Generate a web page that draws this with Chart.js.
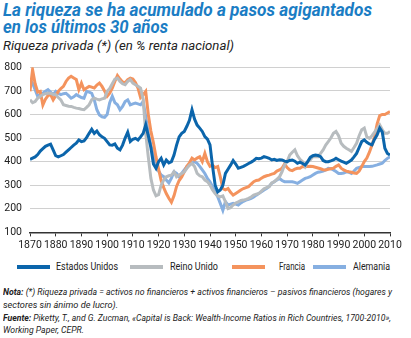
<!DOCTYPE html>
<html>
<head>
<meta charset="utf-8">
<script src="https://cdn.jsdelivr.net/npm/chart.js@4.4.1/dist/chart.umd.min.js"></script>
<style>
  html, body { margin: 0; padding: 0; background: #fff; }
  body { width: 411px; height: 338px; position: relative; overflow: hidden; font-family: Roboto, "Open Sans", sans-serif; color: #222; }
  .txt { position: absolute; left: 3px; white-space: nowrap; line-height: 1; transform-origin: 0 0; display: inline-block; }
  .title { color: #1b7dc4; font-weight: bold; font-style: italic; font-size: 18px; }
  .sub { font-style: italic; font-size: 12px; }
  .note { font-style: italic; font-size: 9.5px; }
  .legend-text { font-size: 10px; }
  .legend-line { position: absolute; height: 4px; }
  .chartbox { position: absolute; left: 0; top: 53px; width: 411px; height: 202px; }
</style>
</head>
<body>
<div class="txt title" style="top:1px" data-w="369">La riqueza se ha acumulado a pasos agigantados</div>
<div class="txt title" style="top:17.5px" data-w="165">en los últimos 30 años</div>
<div class="txt sub" style="top:40px" data-w="231">Riqueza privada (*) (en % renta nacional)</div>
<div class="chartbox"><canvas id="chart"></canvas></div>
<div id="legend"></div>
<div class="txt note" style="top:287px" data-w="389"><b>Nota:</b> (*) Riqueza privada = activos no financieros + activos financieros – pasivos financieros (hogares y</div>
<div class="txt note" style="top:299.5px" data-w="115">sectores sin ánimo de lucro).</div>
<div class="txt note" style="top:313px" data-w="388"><b>Fuente:</b> Piketty, T., and G. Zucman, «Capital is Back: Wealth-Income Ratios in Rich Countries, 1700-2010»,</div>
<div class="txt note" style="top:325px" data-w="81">Working Paper, CEPR.</div>
<script>
const years = Array.from({ length: 141 }, (_, i) => 1870 + i)

const estadosUnidos = [
    410, 415, 420, 430, 445, 455, 465, 470, 474, 450,
    425, 420, 425, 430, 440, 450, 460, 470, 478, 492,
    485, 488, 502, 520, 537, 520, 530, 514, 505, 499,
    485, 471, 470, 475, 457, 450, 470, 500, 525, 485,
    495, 499, 492, 505, 520, 556, 510, 460, 390, 372,
    400, 414, 386, 407, 395, 400, 428, 470, 505, 520,
    528, 550, 575, 620, 580, 555, 542, 528, 506, 495,
    471, 380, 300, 272, 280, 300, 350, 368, 385, 405,
    390, 372, 376, 380, 386, 392, 398, 405, 414, 412,
    415, 421, 418, 414, 407, 410, 405, 408, 407, 402,
    400, 405, 407, 402, 393, 398, 392, 386, 400, 418,
    425, 428, 426, 421, 405, 400, 400, 403, 407, 414,
    408, 402, 398, 393, 400, 407, 420, 435, 460, 485,
    492, 482, 475, 471, 495, 514, 542, 525, 457, 435,
    428
]

const reinoUnido = [
    662, 650, 655, 669, 677, 684, 688, 690, 690, 686,
    684, 672, 662, 641, 638, 635, 634, 630, 627, 625,
    622, 620, 630, 641, 662, 669, 665, 662, 666, 669,
    698, 710, 730, 750, 754, 740, 730, 726, 740, 748,
    733, 726, 720, 712, 665, 520, 420, 330, 280, 255,
    260, 300, 322, 336, 340, 343, 357, 336, 343, 350,
    357, 372, 385, 393, 379, 350, 340, 336, 322, 315,
    301, 280, 265, 255, 251, 255, 230, 201, 205, 216,
    225, 230, 235, 237, 240, 244, 250, 258, 262, 265,
    275, 285, 290, 294, 310, 315, 325, 335, 357, 386,
    400, 428, 440, 450, 425, 410, 400, 379, 400, 407,
    421, 421, 421, 435, 450, 470, 485, 500, 520, 528,
    510, 478, 465, 457, 450, 443, 460, 478, 510, 535,
    542, 505, 499, 510, 525, 540, 556, 535, 520, 520,
    528
]

const francia = [
    698, 790, 730, 695, 698, 640, 665, 680, 684, 662,
    680, 698, 710, 719, 740, 754, 762, 755, 748, 705,
    733, 705, 712, 719, 716, 712, 725, 733, 719, 700,
    677, 690, 712, 740, 765, 750, 738, 735, 748, 754,
    750, 735, 712, 672, 684, 698, 600, 530, 480, 420,
    370, 320, 290, 265, 245, 228, 255, 295, 320, 335,
    357, 380, 395, 415, 407, 415, 421, 400, 435, 400,
    380, 385, 375, 379, 336, 285, 280, 286, 270, 258,
    265, 272, 280, 286, 290, 294, 305, 315, 320, 322,
    330, 336, 340, 343, 347, 350, 360, 365, 372, 390,
    375, 365, 362, 368, 372, 372, 379, 378, 379, 380,
    379, 376, 373, 370, 366, 365, 368, 370, 372, 380,
    386, 372, 365, 360, 357, 355, 352, 350, 360, 379,
    400, 415, 440, 470, 506, 560, 595, 600, 600, 606,
    612
]

const alemania = [
    748, 733, 705, 677, 685, 690, 698, 705, 695, 684,
    698, 690, 684, 688, 690, 680, 669, 675, 684, 678,
    672, 669, 698, 695, 690, 662, 620, 598, 590, 588,
    600, 650, 677, 650, 641, 620, 634, 655, 662, 641,
    645, 648, 645, 641, 655, 590, 520, 470, 430, 390,
    360, 343, 336, 322, 310, 330, 357, 350, 336, 350,
    365, 379, 386, 395, 400, 393, 380, 365, 350, 329,
    315, 294, 272, 251, 223, 194, 230, 216, 220, 223,
    220, 216, 225, 232, 237, 240, 244, 250, 258, 265,
    272, 280, 286, 295, 308, 315, 322, 329, 320, 315,
    315, 315, 315, 312, 308, 315, 322, 329, 332, 336,
    343, 350, 355, 357, 360, 365, 372, 370, 365, 358,
    350, 350, 352, 357, 355, 350, 360, 372, 375, 379,
    379, 379, 379, 380, 383, 386, 390, 393, 405, 414,
    421
]

const seriesNames = ['Estados Unidos', 'Reino Unido', 'Francia', 'Alemania']
const seriesColors = ['#0b65ab', '#b7bcbf', '#f4935d', '#86afe1']
const yTicks = [100, 200, 300, 400, 500, 600, 700, 800]

// legend placement (line start x, text start x, text width)
const legendSlots = [[17, 56, 62], [130, 170, 48], [232, 279, 26], [313, 353, 37]]

const makeSeries = (label, values, color) => ({
    label,
    data: values.map((v, i) => ({ x: years[i], y: v })),
    borderColor: color,
    backgroundColor: color,
    borderWidth: 3,
    pointRadius: 0,
    tension: 0,
    fill: false
})

const font = { family: 'Roboto, sans-serif', size: 10.5 }

const chart = new Chart(document.getElementById('chart'), {
    type: 'line',
    data: {
        datasets: [estadosUnidos, reinoUnido, francia, alemania].map((s, i) => makeSeries(seriesNames[i], s, seriesColors[i]))
    },
    options: {
        animation: false,
        responsive: true,
        maintainAspectRatio: false,
        layout: { padding: { top: 12, right: 21, left: 0, bottom: 0 } },
        plugins: {
            legend: { display: false },
            tooltip: { enabled: false }
        },
        scales: {
            x: {
                type: 'linear',
                min: years[0],
                max: years[years.length - 1],
                ticks: { stepSize: 10, autoSkip: false, color: '#222', font, callback: v => String(v), maxRotation: 0, padding: 3 },
                grid: { drawOnChartArea: false, drawTicks: true, tickLength: 4, color: '#333' },
                border: { display: true, color: '#333', width: 1.5 }
            },
            y: {
                min: yTicks[0],
                max: yTicks[yTicks.length - 1],
                afterBuildTicks: axis => { axis.ticks = yTicks.map(v => ({ value: v })) },
                afterFit: axis => { axis.width = 30 },
                ticks: { color: '#222', font, padding: 8 },
                grid: { color: '#d0d0d0', drawTicks: false },
                border: { display: false }
            }
        }
    }
})

// html legend built from the chart's datasets
const legend = document.getElementById('legend')
chart.data.datasets.forEach((ds, i) => {
    const [lx, tx, tw] = legendSlots[i]
    const line = document.createElement('div')
    line.className = 'legend-line'
    line.style.cssText = `left:${lx}px;top:265px;width:33px;background:${ds.borderColor}`
    legend.appendChild(line)
    const t = document.createElement('div')
    t.className = 'txt legend-text'
    t.style.cssText = `left:${tx}px;top:261.5px`
    t.dataset.w = tw
    t.textContent = ds.label
    legend.appendChild(t)
})

// squeeze each text line to the width it has in the original (condensed face)
document.querySelectorAll('[data-w]').forEach(el => {
    const w = el.getBoundingClientRect().width
    el.style.transform = `scaleX(${el.dataset.w / w})`
})
</script>
</body>
</html>
